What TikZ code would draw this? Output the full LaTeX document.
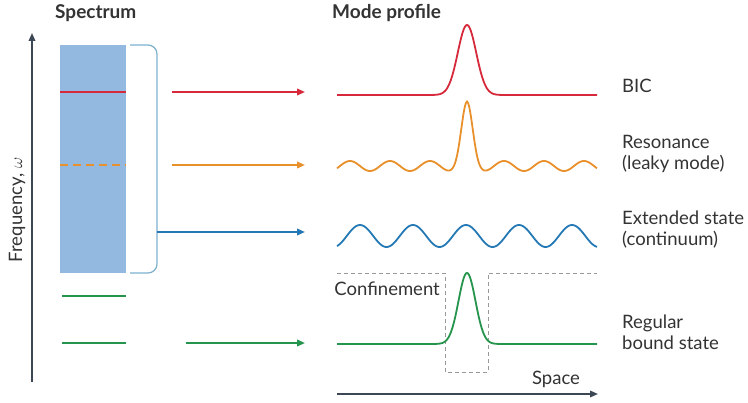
\documentclass[tikz,border=0pt]{standalone}
\usepackage{fontspec}
\setmainfont{Lato}
\usetikzlibrary{arrows.meta, positioning}
\definecolor{bicred}{HTML}{D6293B}
\definecolor{resorange}{HTML}{E8912C}
\definecolor{extblue}{HTML}{2479B5}
\definecolor{boundgreen}{HTML}{25944C}
\definecolor{bandblue}{HTML}{93B9E0}
\definecolor{bracketblue}{HTML}{7DB0CF}
\definecolor{axisgray}{HTML}{3B4853}
\definecolor{labelgray}{HTML}{333333}

\begin{document}
\begin{tikzpicture}[
        x=1pt, y=-1pt,
        font=\fontsize{18.5}{21}\selectfont,
        >={Triangle[length=2.8mm, width=2.3mm]},
        axis/.style={draw=axisgray, line width=1.6pt, ->},
        link/.style={line width=1.8pt, ->},
        level/.style={line width=1.6pt},
        mode/.style={line width=1.8pt, samples=261, smooth},
        well/.style={draw=gray!80, line width=0.9pt, dash pattern=on 4pt off 3pt},
        head/.style={font=\fontsize{19}{21}\selectfont\bfseries, text=labelgray, anchor=west, inner sep=0pt},
        lbl/.style={anchor=west, align=left, text=labelgray, inner sep=0pt}
    ]
        \useasboundingbox (0,0) rectangle (748,403);

        % --- Spectrum ---
        \node[head] (spec) at (55,13) {Spectrum};
        \coordinate (w0) at (32,382);
        \coordinate (w1) at (32,33);
        \draw[axis] (w0) -- (w1);
        \node[rotate=90, text=labelgray, inner sep=0pt] (freq) at (17,210) {Frequency, $\omega$};

        \node[fill=bandblue, inner sep=0pt, minimum width=66pt, minimum height=228pt] (band) at (93,159) {};
        \draw[bicred, level] (60,92) -- (126,92);
        \draw[resorange, level, dash pattern=on 8pt off 5pt] (60,165) -- (126,165);
        \draw[boundgreen, level] (62,296) -- (126,296);
        \draw[boundgreen, level] (62,343) -- (126,343);

        % bracket round the continuum
        \draw[bracketblue, line width=1.2pt, rounded corners=9pt] (130,45) -- (157,45) -- (157,273) -- (130,273);

        % --- Arrows to the mode profiles ---
        \coordinate (bicS) at (172,92);   \coordinate (bicT) at (305,92);
        \coordinate (resS) at (172,165);  \coordinate (resT) at (305,165);
        \coordinate (extS) at (157,232);  \coordinate (extT) at (305,232);
        \coordinate (bndS) at (186,343);  \coordinate (bndT) at (305,343);
        \draw[link, bicred] (bicS) -- (bicT);
        \draw[link, resorange] (resS) -- (resT);
        \draw[link, extblue] (extS) -- (extT);
        \draw[link, boundgreen] (bndS) -- (bndT);

        % --- Mode profile ---
        \node[head] (prof) at (332,13) {Mode profile};
        \draw[mode, bicred] plot[domain=337:597] (\x, {95-70*exp(-((\x-467)/13)^2)});
        \draw[mode, resorange] plot[domain=337:597] (\x, {166-60*exp(-((\x-467)/8)^2)-5*cos(9*(abs(\x-467)-37))});
        \draw[mode, extblue] plot[domain=337:597] (\x, {236-11*cos(6.79*(\x-360))});
        \draw[well] (337,273) -- (445,273) -- (445,372) -- (488,372) -- (488,273) -- (597,273);
        \node[anchor=east, text=labelgray, inner sep=0pt] (conf) at (440,289) {Confinement};
        \draw[mode, boundgreen] plot[domain=337:597] (\x, {344-71*exp(-((\x-467)/12)^2)});

        \coordinate (x0) at (337,394);
        \coordinate (x1) at (598,394);
        \draw[axis] (x0) -- (x1);
        \node[text=labelgray, inner sep=0pt] (space) at (556,379) {Space};

        % --- Labels ---
        \node[lbl] (bic) at (622,86) {BIC};
        \node[lbl] (res) at (622,154) {Resonance\\(leaky mode)};
        \node[lbl] (ext) at (622,230) {Extended state\\(continuum)};
        \node[lbl] (bnd) at (622,332) {Regular\\bound state};
    \end{tikzpicture}
\end{document}
